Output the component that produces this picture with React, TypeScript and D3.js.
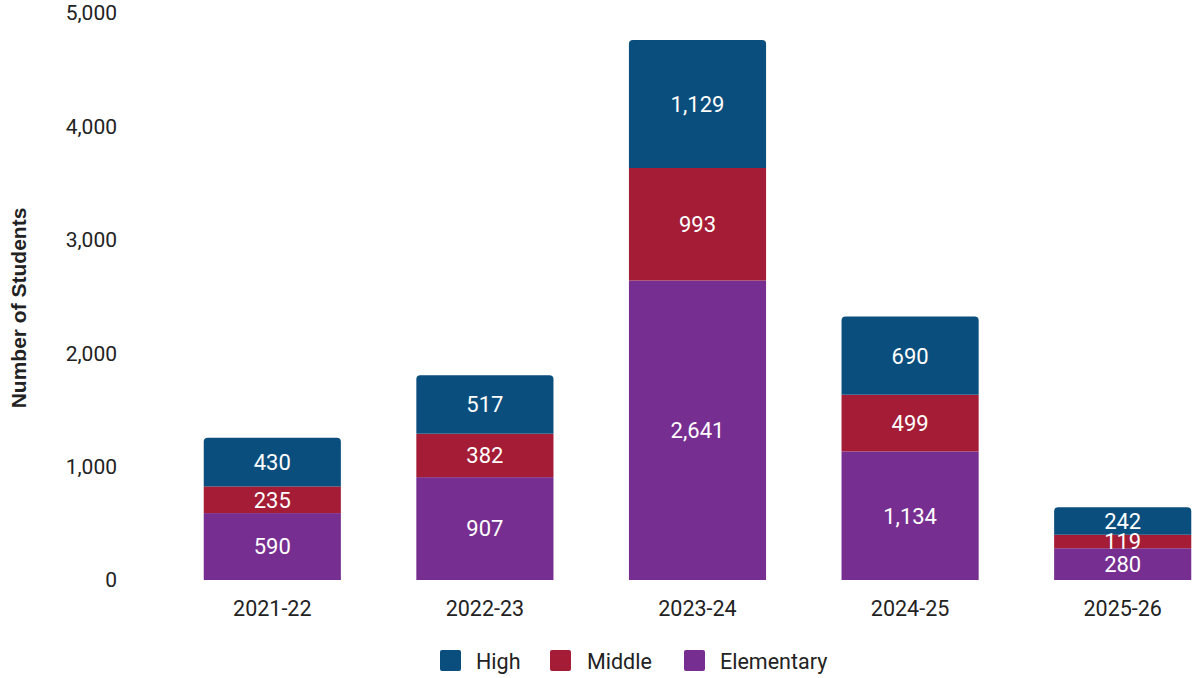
import React from "react";
import * as d3 from "d3";

const years = ["2021-22", "2022-23", "2023-24", "2024-25", "2025-26"];
const elementary = [590, 907, 2641, 1134, 280];
const middle = [235, 382, 993, 499, 119];
const high = [430, 517, 1129, 690, 242];
const yTicks = [0, 1000, 2000, 3000, 4000, 5000];
const seriesNames = ["Elementary", "Middle", "High"];
const colors: Record<string, string> = {
  High: "#0a4e7d",
  Middle: "#a41c35",
  Elementary: "#772e91",
};

const W = 1192;
const H = 678;
const font = "Roboto, 'Noto Sans', sans-serif";

function topRounded(x: number, y: number, w: number, h: number, r: number) {
  return `M${x},${y + h}V${y + r}Q${x},${y} ${x + r},${y}H${x + w - r}Q${x + w},${y} ${x + w},${y + r}V${y + h}Z`;
}

export default function App() {
  const x = d3.scaleBand<string>().domain(years).range([166, 1229]).paddingInner(0.355).paddingOuter(0.1775);
  const y = d3.scaleLinear().domain([0, 5000]).range([580, 13]);
  const fmt = d3.format(",");

  const rows = years.map((yr, i) => ({ year: yr, Elementary: elementary[i], Middle: middle[i], High: high[i] }));
  const stacked = d3.stack<any>().keys(seriesNames)(rows);

  const legendItems = [
    { name: "High", sx: 440, tx: 476 },
    { name: "Middle", sx: 550, tx: 587 },
    { name: "Elementary", sx: 684, tx: 720 },
  ];

  return (
    <svg width={W} height={H} style={{ position: "absolute", left: 0, top: 0, background: "#fff" }} fontFamily={font}>
      {yTicks.map((t) => (
        <text key={t} x={117} y={y(t)} dy="0.35em" textAnchor="end" fontSize={21} fill="#222">
          {fmt(t)}
        </text>
      ))}
      <text
        transform={`translate(26,${308}) rotate(-90)`}
        textAnchor="middle"
        fontSize={21}
        fontWeight="bold"
        fontFamily="'Liberation Sans', Arial, sans-serif"
        fill="#222"
      >
        Number of Students
      </text>
      <g>
        {stacked.map((layer) =>
          layer.map((d, i) => {
            const x0 = x(years[i])!;
            const bw = x.bandwidth();
            const y0 = y(d[1]);
            const h = y(d[0]) - y(d[1]);
            return layer.key === "High" ? (
              <path key={layer.key + i} d={topRounded(x0, y0, bw, h, 4)} fill={colors[layer.key]} />
            ) : (
              <rect key={layer.key + i} x={x0} y={y0} width={bw} height={h} fill={colors[layer.key]} />
            );
          })
        )}
      </g>
      <g>
        {stacked.map((layer) =>
          layer.map((d, i) => {
            const x0 = x(years[i])!;
            const bw = x.bandwidth();
            const y0 = y(d[1]);
            const h = y(d[0]) - y(d[1]);
            return (
              <text
                key={"t" + layer.key + i}
                x={x0 + bw / 2}
                y={y0 + h / 2}
                dy="0.36em"
                textAnchor="middle"
                fontSize={22}
                fill="#fff"
              >
                {fmt(d[1] - d[0])}
              </text>
            );
          })
        )}
      </g>
      {years.map((yr) => (
        <text key={yr} x={x(yr)! + x.bandwidth() / 2} y={608} dy="0.35em" textAnchor="middle" fontSize={21.5} fill="#222">
          {yr}
        </text>
      ))}
      {legendItems.map((l) => (
        <g key={l.name}>
          <rect x={l.sx} y={650} width={21} height={21} rx={2} fill={colors[l.name]} />
          <text x={l.tx} y={661} dy="0.35em" fontSize={21.5} fill="#222">
            {l.name}
          </text>
        </g>
      ))}
    </svg>
  );
}
